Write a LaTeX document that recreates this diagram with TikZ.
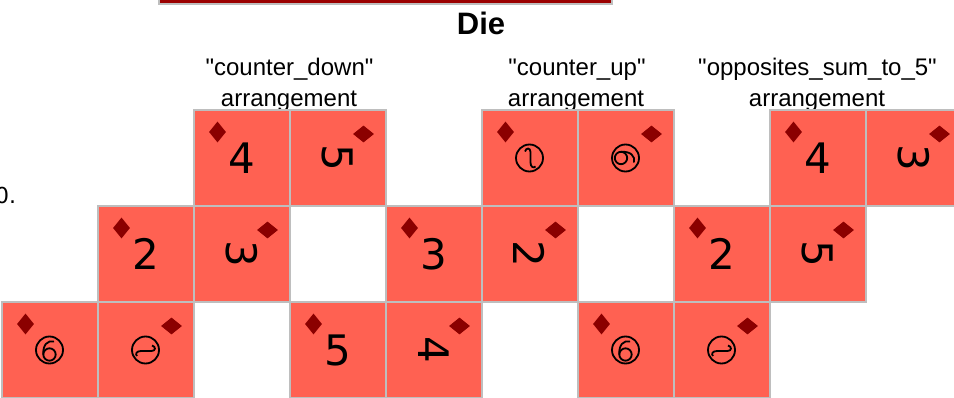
\documentclass[tikz,border=0pt]{standalone}
\usepackage{fontspec}
\setmainfont{Liberation Sans}[Ligatures=TeXOff]
\newfontfamily\digitfont{DejaVu Sans}
\usetikzlibrary{shapes.geometric}
\definecolor{facefill}{RGB}{255,97,82}
\definecolor{faceline}{RGB}{190,190,190}
\definecolor{pipred}{RGB}{139,0,0}
\definecolor{barred}{RGB}{155,0,0}
\newcommand\dieface[5]{%
  \node[facebox] (#1) at (#2,#3) {};
  \begin{scope}[shift={(#1.center)}, rotate=#5]
    \node[pip, transform shape] (#1p) at (-24,-26) {};
    #4
  \end{scope}
}
\newcommand\digitglyph[2]{\node[digit, transform shape] (#1) at (0,0) {#2};}
% Sinhala lith digits zero and one (no installed font draws them): drawn as shapes
\newcommand\lithzero[1]{%
    \coordinate (#1) at (0,0);
    \draw[glyphline] (#1) circle (13.5);
    \draw[glyphline] (0,4.5) circle (6.2);
    \draw[glyphline] (-6.2,4.5) .. controls (-6.8,-5) and (-2,-10) .. (4.5,-8.5);}
\newcommand\lithone[1]{%
    \coordinate (#1) at (0,0);
    \draw[glyphline] (#1) circle (13.5);
    \draw[glyphline] (-4.5,-6.5) .. controls (-3.5,-10.5) and (1,-10.5) .. (1,-6) -- (1,4.5) .. controls (1,9) and (4,10.5) .. (6,8.5);}
\begin{document}
\begin{tikzpicture}[x=1pt,y=-1pt,
  facebox/.style={draw=faceline, line width=2pt, fill=facefill, minimum size=96pt, inner sep=0pt, outer sep=0pt},
  pip/.style={diamond, fill=pipred, inner sep=0pt, minimum width=17pt, minimum height=21pt},
  digit/.style={font=\digitfont\fontsize{42}{42}\selectfont, inner sep=0pt},
  glyphline/.style={draw=black, line width=1.8pt},
  lbl/.style={font=\fontsize{24}{24}\selectfont, inner sep=0pt, anchor=base},
  titlelbl/.style={font=\bfseries\fontsize{31}{31}\selectfont, inner sep=0pt, anchor=base},
  sidelbl/.style={font=\digitfont\fontsize{22}{22}\selectfont, inner sep=0pt, anchor=base west},
  topbar/.style={fill=barred, draw=faceline, line width=1.5pt}
]
\useasboundingbox (0,0) rectangle (954,398);
\clip (0,0) rectangle (954,398);
\node[topbar, minimum width=453pt, minimum height=14pt, inner sep=0pt] (bar) at (385.5,-3) {};
\node[titlelbl] (title) at (481,35) {Die};
\node[sidelbl] (side) at (-5,204) {0.};
\node[lbl] (l1a) at (289.5,76) {"counter\_down"};
\node[lbl] (l1b) at (289,107) {arrangement};
\node[lbl] (l2a) at (577,76) {"counter\_up"};
\node[lbl] (l2b) at (576,107) {arrangement};
\node[lbl] (l3a) at (817.5,76) {"opposites\_sum\_to\_5"};
\node[lbl] (l3b) at (817,107) {arrangement};
% counter_down
\dieface{a1}{241.5}{158}{\digitglyph{a1t}{4}}{0}
\dieface{a2}{337.5}{158}{\digitglyph{a2t}{5}}{-90}
\dieface{a3}{145.5}{254}{\digitglyph{a3t}{2}}{0}
\dieface{a4}{241.5}{254}{\digitglyph{a4t}{3}}{-90}
\dieface{a5}{49.5}{350}{\lithzero{a5t}}{0}
\dieface{a6}{145.5}{350}{\lithone{a6t}}{-90}
% counter_up
\dieface{b1}{529.5}{158}{\lithone{b1t}}{0}
\dieface{b2}{625.5}{158}{\lithzero{b2t}}{-90}
\dieface{b3}{433.5}{254}{\digitglyph{b3t}{3}}{0}
\dieface{b4}{529.5}{254}{\digitglyph{b4t}{2}}{-90}
\dieface{b5}{337.5}{350}{\digitglyph{b5t}{5}}{0}
\dieface{b6}{433.5}{350}{\digitglyph{b6t}{4}}{-90}
% opposites_sum_to_5
\dieface{c1}{817.5}{158}{\digitglyph{c1t}{4}}{0}
\dieface{c2}{913.5}{158}{\digitglyph{c2t}{3}}{-90}
\dieface{c3}{721.5}{254}{\digitglyph{c3t}{2}}{0}
\dieface{c4}{817.5}{254}{\digitglyph{c4t}{5}}{-90}
\dieface{c5}{625.5}{350}{\lithzero{c5t}}{0}
\dieface{c6}{721.5}{350}{\lithone{c6t}}{-90}
\end{tikzpicture}
\end{document}
